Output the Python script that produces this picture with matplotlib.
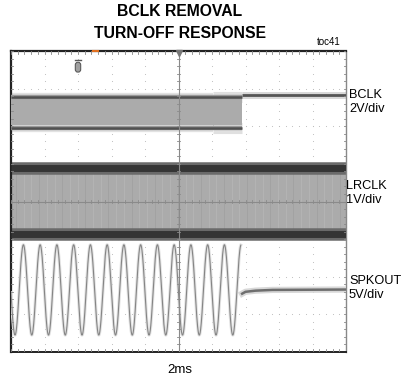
import numpy as np
import matplotlib
matplotlib.use("Agg")
import matplotlib.pyplot as plt
from matplotlib.patches import FancyBboxPatch

# ---- data (in screen divisions: x 0..10, y 0..8) ----
title_lines = ["BCLK REMOVAL", "TURN-OFF RESPONSE"]
channel_labels = ["BCLK\n2V/div", "LRCLK\n1V/div", "SPKOUT\n5V/div"]
time_label = "2ms"
toc_label = "toc41"

# BCLK trace levels
bclk_high = 6.78
bclk_low = 5.96
bclk_fade_start = 6.03     # where the BCLK edges start blurring
bclk_stop = 6.90           # BCLK removed
bclk_idle = 6.82           # level after removal

# LRCLK levels
lrclk_high = 4.89
lrclk_low = 3.14

# SPKOUT sine
spk_mid = 1.65
spk_amp = 1.20
spk_cycles_per_div = 2.0
spk_first_peak = 0.37
spk_stop = 6.86
spk_settle_t = [6.90, 7.0, 7.3, 7.8, 10.0]
spk_settle_v = [1.55, 1.60, 1.63, 1.65, 1.66]

trigger_x = 2.0

fam = ["Liberation Sans", "DejaVu Sans"]

fig = plt.figure(figsize=(4.06, 3.83), dpi=100)
ax = fig.add_axes([11/406, 31/383, 335/406, 301/383])
ax.set_xlim(0, 10)
ax.set_ylim(0, 8)
ax.set_xticks([]); ax.set_yticks([])
for s in ["left", "top"]:
    ax.spines[s].set_linewidth(1.6); ax.spines[s].set_color("#222222")
ax.spines["bottom"].set_linewidth(1.4); ax.spines["bottom"].set_color("#222222")
ax.spines["right"].set_linewidth(1.0); ax.spines["right"].set_color("#888888")

# grid dots
sub = np.arange(0, 8.001, 0.2)
subx = np.arange(0, 10.001, 0.2)
for gx in range(1, 10):
    if gx == 5: continue
    ax.scatter(np.full_like(sub, gx), sub, s=0.6, color="#bbbbbb", lw=0, zorder=1)
for gy in range(1, 8):
    if gy == 4: continue
    ax.scatter(subx, np.full_like(subx, gy), s=0.6, color="#bbbbbb", lw=0, zorder=1)

# ---- BCLK ----
ax.fill_between([0, bclk_stop], bclk_low, bclk_high, color="#ababab", lw=0, zorder=2)
for lvl in (bclk_high, bclk_low):
    ax.plot([0, bclk_fade_start], [lvl, lvl], color="#e2e2e2", lw=6, zorder=2.5, solid_capstyle="butt")
    ax.plot([bclk_fade_start, bclk_stop], [lvl, lvl], color="#e0e0e0", lw=8, zorder=2.5, solid_capstyle="butt")
    ax.plot([0, bclk_stop], [lvl, lvl], color="#9a9a9a", lw=3.2, zorder=2.8, solid_capstyle="butt")
    ax.plot([0, bclk_stop], [lvl, lvl], color="#505050", lw=1.8, zorder=3, solid_capstyle="butt")
ax.fill_between([0, bclk_stop], bclk_low + 0.06, bclk_high - 0.06, color="#ababab", lw=0, zorder=2.6)
ax.plot([bclk_stop, 10], [bclk_idle, bclk_idle], color="#d8d8d8", lw=5, zorder=2.5, solid_capstyle="butt")
ax.plot([bclk_stop, 10], [bclk_idle, bclk_idle], color="#555555", lw=2.0, zorder=3, solid_capstyle="butt")

# ---- LRCLK ----
ax.fill_between([0, 10], lrclk_low, lrclk_high, color="#ababab", lw=0, zorder=2)
stripes = np.arange(0.15, 10, 0.23)
for i, sx in enumerate(stripes):
    c = "#b4b4b4" if i % 3 else "#a2a2a2"
    ax.plot([sx, sx], [lrclk_low, lrclk_high], color=c, lw=0.7, zorder=2.2)
for lvl in (lrclk_high, lrclk_low):
    ax.plot([0, 10], [lvl, lvl], color="#6a6a6a", lw=9, zorder=2.5, solid_capstyle="butt")
    ax.plot([0, 10], [lvl, lvl], color="#353535", lw=5, zorder=3, solid_capstyle="butt")

# ---- SPKOUT ----
t = np.linspace(0, spk_stop, 3000)
v = spk_mid + spk_amp * np.cos(2 * np.pi * spk_cycles_per_div * (t - spk_first_peak))
ax.plot(t, v, color="#e2e2e2", lw=2.2, zorder=3)
ax.plot(t, v, color="#858585", lw=0.8, zorder=3.2)
ax.plot(spk_settle_t, spk_settle_v, color="#d8d8d8", lw=4.5, zorder=3)
ax.plot(spk_settle_t, spk_settle_v, color="#6e6e6e", lw=1.8, zorder=3.2)

# center lines with minor ticks
ax.axhline(4, color="#8a8a8a", lw=0.8, zorder=4)
ax.axvline(5, color="#8a8a8a", lw=0.8, zorder=4)
tk = 0.05
for x in subx:
    ax.plot([x, x], [4 - tk, 4 + tk], color="#8a8a8a", lw=0.6, zorder=4)
    ax.plot([x, x], [8, 8 - tk * 1.5], color="#888888", lw=0.6, zorder=4)
    ax.plot([x, x], [0, tk * 1.5], color="#888888", lw=0.6, zorder=4)
for y in sub:
    ax.plot([5 - tk, 5 + tk], [y, y], color="#8a8a8a", lw=0.6, zorder=4)
    ax.plot([0, tk * 1.2], [y, y], color="#888888", lw=0.6, zorder=4)
    ax.plot([10, 10 - tk * 1.2], [y, y], color="#888888", lw=0.6, zorder=4)

# trigger markers
ax.plot([5], [7.95], marker="v", color="#777777", ms=4, zorder=5, clip_on=False)
ax.plot([2.45, 2.6], [7.99, 7.99], color="#e07020", lw=1.5, zorder=5, clip_on=False)
ax.add_patch(FancyBboxPatch((trigger_x - 0.08, 7.44), 0.16, 0.26,
                            boxstyle="round,pad=0.0,rounding_size=0.07",
                            fc="#a0a0a0", ec="#5a5a5a", lw=0.8, zorder=5))
ax.plot([trigger_x - 0.08, trigger_x + 0.08], [7.77, 7.77], color="#5a5a5a", lw=1.0, zorder=5)

# ---- text ----
fig.text(180/406, 1 - 12/383, title_lines[0], ha="center", va="center",
         fontsize=11.3, fontweight="bold", family=fam)
fig.text(180/406, 1 - 33/383, title_lines[1], ha="center", va="center",
         fontsize=11.3, fontweight="bold", family=fam)
fig.text(329/406, 1 - 42/383, toc_label, ha="center", va="center", fontsize=7, family=fam)
label_y = [102, 193, 288]
label_x = [349, 346, 349]
for lab, ly, lx in zip(channel_labels, label_y, label_x):
    fig.text(lx/406, 1 - ly/383, lab, ha="left", va="center", fontsize=9.2,
             family=fam, linespacing=1.3)
fig.text(180/406, 1 - 370/383, time_label, ha="center", va="center", fontsize=9.5, family=fam)

fig.savefig("out.png", dpi=100)
